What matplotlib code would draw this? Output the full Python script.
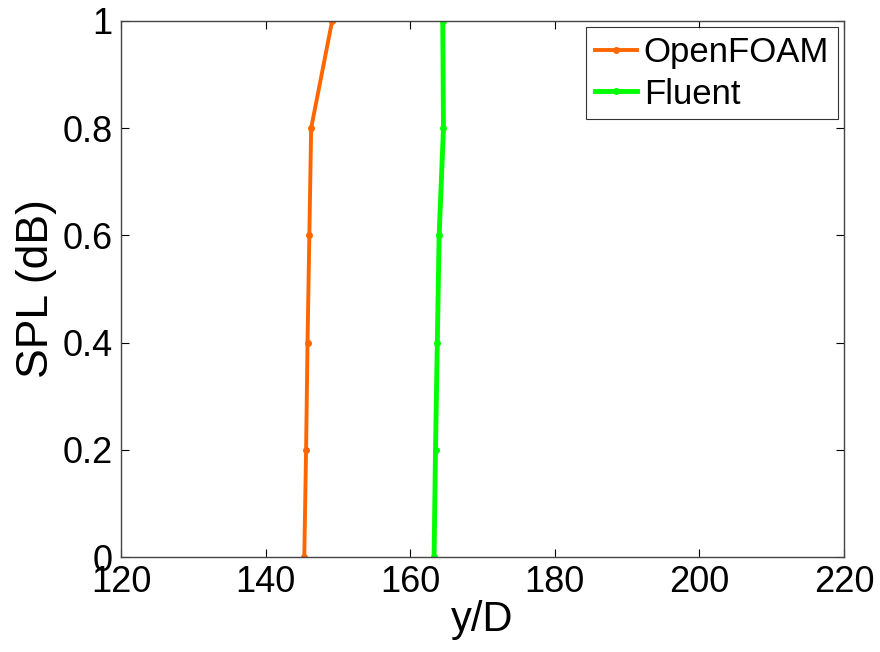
import matplotlib
matplotlib.use("Agg")
import matplotlib.pyplot as plt

plt.rcParams['font.family'] = ['Liberation Sans', 'DejaVu Sans']

# data
spl = [0, 0.2, 0.4, 0.6, 0.8, 1.0]
openfoam_y = [145.35, 145.6, 145.8, 146.05, 146.3, 149.2]
fluent_y = [163.3, 163.5, 163.75, 164.0, 164.6, 164.5]

fig = plt.figure(figsize=(8.8, 6.52), dpi=100)
ax = fig.add_axes([0.1375, 0.1457, 0.8216, 0.8221])

ax.plot(openfoam_y, spl, color='#FF6600', lw=2.8, marker='o', ms=4, label='OpenFOAM')
ax.plot(fluent_y, spl, color='#00FF00', lw=3.5, marker='o', ms=4, label='Fluent')

ax.set_xlim(120, 220)
ax.set_ylim(0, 1)
ax.set_xticks([120, 140, 160, 180, 200, 220])
ax.set_yticks([0, 0.2, 0.4, 0.6, 0.8, 1])
ax.set_yticklabels(['0', '0.2', '0.4', '0.6', '0.8', '1'])
ax.tick_params(direction='in', length=6, width=0.8, top=True, right=True,
               labelsize=26, pad=6)
for s in ax.spines.values():
    s.set_color('#444444')
    s.set_linewidth(1)

ax.set_xlabel('y/D', fontsize=30, labelpad=0)
ax.set_ylabel('SPL (dB)', fontsize=32, labelpad=4)

leg = ax.legend(loc='upper right', fontsize=25, frameon=True, fancybox=False,
                edgecolor='black', handlelength=1.2, handletextpad=0.2,
                borderpad=0.25, labelspacing=0.25, borderaxespad=0.18)
leg.get_frame().set_linewidth(0.8)

plt.savefig("out.png", dpi=100)
